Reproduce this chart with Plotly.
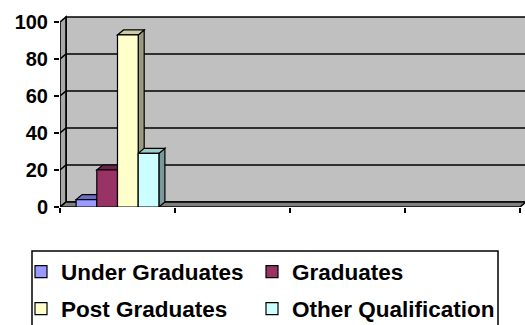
import plotly.graph_objects as go

# ---- data ----
series_names = ["Under Graduates", "Graduates", "Post Graduates", "Other Qualification"]
series_values = [4, 20, 93, 29]
series_colors = ["#9999FF", "#993366", "#FFFFCC", "#CCFFFF"]
top_colors = ["#6B6BC8", "#6B2447", "#CCCCA3", "#9ACCCC"]
side_colors = ["#5C5CA0", "#5C1F3D", "#999980", "#7A9999"]
y_ticks = [0, 20, 40, 60, 80, 100]
n_categories = 4

# ---- geometry (layout) ----
W, H = 525, 325
ML, MR, MT, MB = 60, 0, 14, 118
plot_w = W - ML - MR
plot_h = H - MT - MB
px_per_x = 115.0
px_per_y = 1.85
x_lo = -0.5
x_hi = x_lo + plot_w / px_per_x
y_hi = plot_h / px_per_y
dx = 6 / px_per_x
dy = 5 / px_per_y
group_w = 0.72
bar_w = group_w / len(series_values)
FONT = "Liberation Sans, Arial, sans-serif"

fig = go.Figure()
legend_ids = ["legend", "legend2", "legend3", "legend4"]
for i, (name, v, c) in enumerate(zip(series_names, series_values, series_colors)):
    fig.add_trace(go.Bar(
        x=[0], y=[v], name=f"<b>{name}</b>", width=bar_w, offset=-group_w / 2 + i * bar_w,
        marker=dict(color=c, line=dict(color="black", width=1.2)),
        legend=legend_ids[i], hovertemplate=f"{name}: %{{y}}<extra></extra>",
    ))

shapes = []
LW = 1.6
x_end = x_lo + n_categories
# back wall
shapes.append(dict(type="path", xref="x", yref="y", layer="below",
                   path=f"M{x_lo+dx},{dy} L{x_lo+dx},{100+dy} L{x_hi+0.2},{100+dy} L{x_hi+0.2},{dy} Z",
                   fillcolor="#C0C0C0", line=dict(color="black", width=LW)))
# left side wall
shapes.append(dict(type="path", xref="x", yref="y", layer="below",
                   path=f"M{x_lo},0 L{x_lo},100 L{x_lo+dx},{100+dy} L{x_lo+dx},{dy} Z",
                   fillcolor="#A8A8A8", line=dict(color="black", width=LW)))
# gridlines on back wall
for t in y_ticks[1:-1]:
    shapes.append(dict(type="path", xref="x", yref="y", layer="below",
                       path=f"M{x_lo},{t} L{x_lo+dx},{t+dy} L{x_hi+0.2},{t+dy}",
                       line=dict(color="black", width=LW)))
# floor
shapes.append(dict(type="path", xref="x", yref="y", layer="below",
                   path=f"M{x_lo},0 L{x_end},0 L{x_end+dx},{dy} L{x_lo+dx},{dy} Z",
                   fillcolor="#808080", line=dict(color="black", width=LW)))
# bar tops and sides
for i, v in enumerate(series_values):
    x0 = -group_w / 2 + i * bar_w
    x1 = x0 + bar_w
    shapes.append(dict(type="path", xref="x", yref="y", layer="below",
                       path=f"M{x1},0 L{x1},{v} L{x1+dx},{v+dy} L{x1+dx},{dy} Z",
                       fillcolor=side_colors[i], line=dict(color="black", width=1.2)))
    shapes.append(dict(type="path", xref="x", yref="y", layer="below",
                       path=f"M{x0},{v} L{x1},{v} L{x1+dx},{v+dy} L{x0+dx},{v+dy} Z",
                       fillcolor=top_colors[i], line=dict(color="black", width=1.2)))

def px_x(p):
    return (p - ML) / plot_w

def px_y(p):
    return (H - MB - p) / plot_h

# legend border
shapes.append(dict(type="rect", xref="paper", yref="paper", layer="above",
                   x0=px_x(32), x1=px_x(498), y0=px_y(340), y1=px_y(251),
                   line=dict(color="black", width=1.5), fillcolor="rgba(0,0,0,0)"))

legend_font = dict(family=FONT, size=22.5, color="black")
common_leg = dict(orientation="h", xanchor="left", yanchor="middle", font=legend_font,
                  bgcolor="rgba(0,0,0,0)", borderwidth=0)
legend_px = [(21, 272), (252, 272), (21, 309), (252, 309)]

legend_layout = {}
for lid, (lx, ly) in zip(legend_ids, legend_px):
    legend_layout[lid] = dict(x=px_x(lx), y=px_y(ly), **common_leg)

fig.update_layout(
    width=W, height=H,
    margin=dict(l=ML, r=MR, t=MT, b=MB, pad=0, autoexpand=False),
    paper_bgcolor="white", plot_bgcolor="white",
    barmode="overlay",
    showlegend=True,
    shapes=shapes,
    xaxis=dict(range=[x_lo, x_hi], showgrid=False, zeroline=False, showline=False,
               tickmode="array", tickvals=[x_lo + k for k in range(n_categories + 1)],
               ticktext=[""] * (n_categories + 1), ticks="outside", ticklen=5,
               tickwidth=1.5, tickcolor="black", fixedrange=True),
    yaxis=dict(range=[0, y_hi], showgrid=False, zeroline=False, showline=False,
               tickmode="array", tickvals=y_ticks, ticktext=[f"<b>{t}</b>" for t in y_ticks],
               ticks="outside", ticklen=5,
               tickwidth=1.5, tickcolor="black", ticklabelstandoff=2,
               tickfont=dict(family=FONT, size=20, color="black"),
               fixedrange=True),
    **legend_layout,
)

fig.write_html("out.html")
